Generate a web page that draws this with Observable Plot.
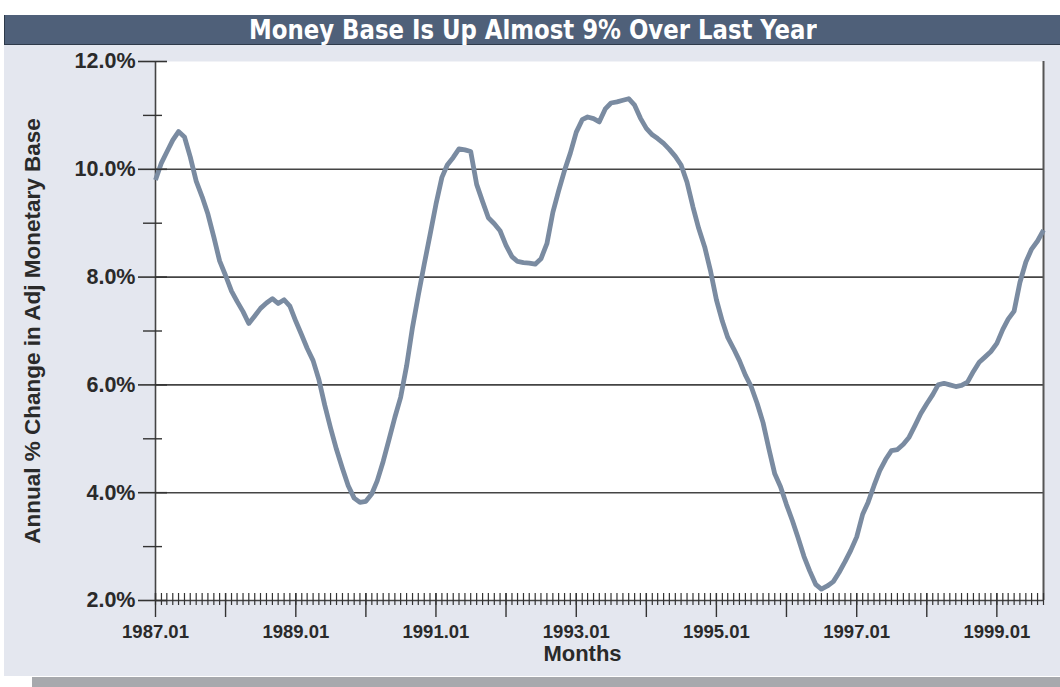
<!DOCTYPE html>
<html><head><meta charset="utf-8">
<script src="https://cdn.jsdelivr.net/npm/d3@7"></script>
<script src="https://cdn.jsdelivr.net/npm/@observablehq/plot@0.6"></script>
<style>
html,body{margin:0;padding:0;background:#fff}
#wrap{position:relative;width:1060px;height:687px;overflow:hidden;background:#fff;font-family:"Liberation Sans",Arial,sans-serif}
#title{position:absolute;left:4px;top:15px;width:1056px;height:30px;background:#4f6079;color:#fff;text-align:center;box-sizing:border-box;border-left:1px solid #2e3a4a;border-bottom:1px solid #2e3a4a;display:flex;align-items:center;justify-content:center}
#title span{display:inline-block;font-family:"Liberation Sans Narrow","DejaVu Sans Condensed","DejaVu Sans",sans-serif;font-weight:bold;font-size:27px;line-height:28px;transform:scaleX(0.94);transform-origin:center;white-space:nowrap}
#panel{position:absolute;left:4px;top:45px;width:1056px;height:631px;background:#e4e7ef}
#foot{position:absolute;left:32px;top:677px;width:1028px;height:10px;background:#a7a9ad}
#chart{position:absolute;left:0;top:44px}
</style>
</head><body>
<div id="wrap">
  <div id="panel"></div>
  <div id="title"><span id="titleText"></span></div>
  <div id="foot"></div>
  <div id="chart"></div>
</div>
<script>
const chartTitle = "Money Base Is Up Almost 9% Over Last Year";
const yTitle = "Annual % Change in Adj Monetary Base";
const xTitle = "Months";
const firstMonth = "1987.01";
const lastMonth = "1999.09";
// Annual % change in adjusted monetary base, monthly from 1987.01
const values = [
  9.80,10.12,10.32,10.54,10.70,10.60,10.23,9.78,9.49,9.17,8.74,8.30,
  8.03,7.74,7.55,7.36,7.14,7.28,7.42,7.52,7.60,7.51,7.58,7.46,
  7.18,6.92,6.68,6.45,6.10,5.62,5.20,4.80,4.45,4.13,3.90,3.82,
  3.84,3.98,4.22,4.58,4.98,5.40,5.77,6.35,7.07,7.66,8.24,8.78,
  9.35,9.85,10.08,10.22,10.38,10.36,10.33,9.72,9.40,9.10,8.99,8.86,
  8.59,8.38,8.29,8.27,8.26,8.24,8.34,8.62,9.20,9.60,9.98,10.30,
  10.69,10.92,10.97,10.94,10.88,11.12,11.23,11.25,11.28,11.31,11.19,10.95,
  10.76,10.64,10.57,10.48,10.37,10.24,10.08,9.76,9.30,8.90,8.56,8.12,
  7.58,7.18,6.88,6.67,6.45,6.18,5.97,5.66,5.30,4.82,4.35,4.11,
  3.78,3.48,3.17,2.82,2.55,2.30,2.21,2.27,2.35,2.52,2.72,2.93,
  3.18,3.60,3.82,4.13,4.41,4.62,4.78,4.80,4.90,5.03,5.25,5.47,
  5.65,5.82,6.00,6.03,6.00,5.97,5.99,6.05,6.25,6.42,6.52,6.62,
  6.77,7.03,7.22,7.37,7.90,8.28,8.52,8.67,8.87
];
const yMajorTicks = [2, 4, 6, 8, 10, 12];
const yMinorTicks = [3, 5, 7, 9, 11];
const yGridLines = [4, 6, 8, 10];
const xTickLabels = ["1987.01","1989.01","1991.01","1993.01","1995.01","1997.01","1999.01"];

document.getElementById("titleText").textContent = chartTitle;

const parseM = d3.utcParse("%Y.%m");
const fmtM = d3.utcFormat("%Y.%m");
const start = parseM(firstMonth);
const end = parseM(lastMonth);
const data = values.map((v, i) => ({date: d3.utcMonth.offset(start, i), value: v}));
const monthTicks = d3.utcMonth.range(start, d3.utcMonth.offset(end, 1));
const yearTicks = d3.utcYear.range(start, end);
const labelDates = xTickLabels.map(parseM);

const ink = "#2a2a2a";
const bold = {fontWeight: "bold", fill: ink};

const chart = Plot.plot({
  width: 1060,
  height: 632,
  marginLeft: 155,
  marginRight: 17,
  marginTop: 17,
  marginBottom: 76,
  style: {background: "transparent", fontFamily: "'Liberation Sans', Arial, sans-serif", color: ink},
  x: {type: "utc", domain: [start, end]},
  y: {domain: [2, 12]},
  marks: [
    Plot.frame({fill: "white", stroke: null}),
    Plot.gridY(yGridLines, {stroke: "#444", strokeOpacity: 1, strokeWidth: 1.6}),
    Plot.ruleY([2], {stroke: "#444", strokeWidth: 1.6}),
    Plot.ruleX([start], {stroke: "#444", strokeWidth: 1.6}),
    Plot.ruleX([end], {stroke: "#555", strokeWidth: 2}),
    Plot.line(data, {x: "date", y: "value", stroke: "#7a8ba1", strokeWidth: 4.8, strokeLinejoin: "round", strokeLinecap: "butt"}),
    Plot.axisY({ticks: yMajorTicks, tickSize: 29, dx: 12, tickFormat: () => "", label: null, stroke: "#333", strokeWidth: 1.6}),
    Plot.axisY({ticks: yMinorTicks, tickSize: 19, dx: 7, tickFormat: () => "", label: null, stroke: "#333", strokeWidth: 1.4}),
    Plot.axisY({ticks: yMajorTicks, tickSize: 0, tickPadding: 20, tickFormat: d => d.toFixed(1) + "%", label: null, fontSize: 21.5, ...bold}),
    Plot.axisX({ticks: monthTicks, tickSize: 12, dy: -7, tickFormat: () => "", label: null, stroke: "#333", strokeWidth: 1.2}),
    Plot.axisX({ticks: yearTicks, tickSize: 24, dy: -7, tickFormat: () => "", label: null, stroke: "#333", strokeWidth: 1.4}),
    Plot.axisX({ticks: labelDates, tickSize: 0, tickPadding: 24, tickFormat: d => fmtM(d), label: null, fontSize: 18.5, ...bold}),
    Plot.text([xTitle], {frameAnchor: "bottom", lineAnchor: "middle", textAnchor: "middle", dy: 53, dx: -17, fontSize: 22, ...bold}),
    Plot.text([yTitle], {frameAnchor: "left", textAnchor: "middle", lineAnchor: "middle", dx: -123, rotate: -90, fontSize: 22.5, ...bold})
  ]
});
document.getElementById("chart").appendChild(chart);
</script>
</body></html>
